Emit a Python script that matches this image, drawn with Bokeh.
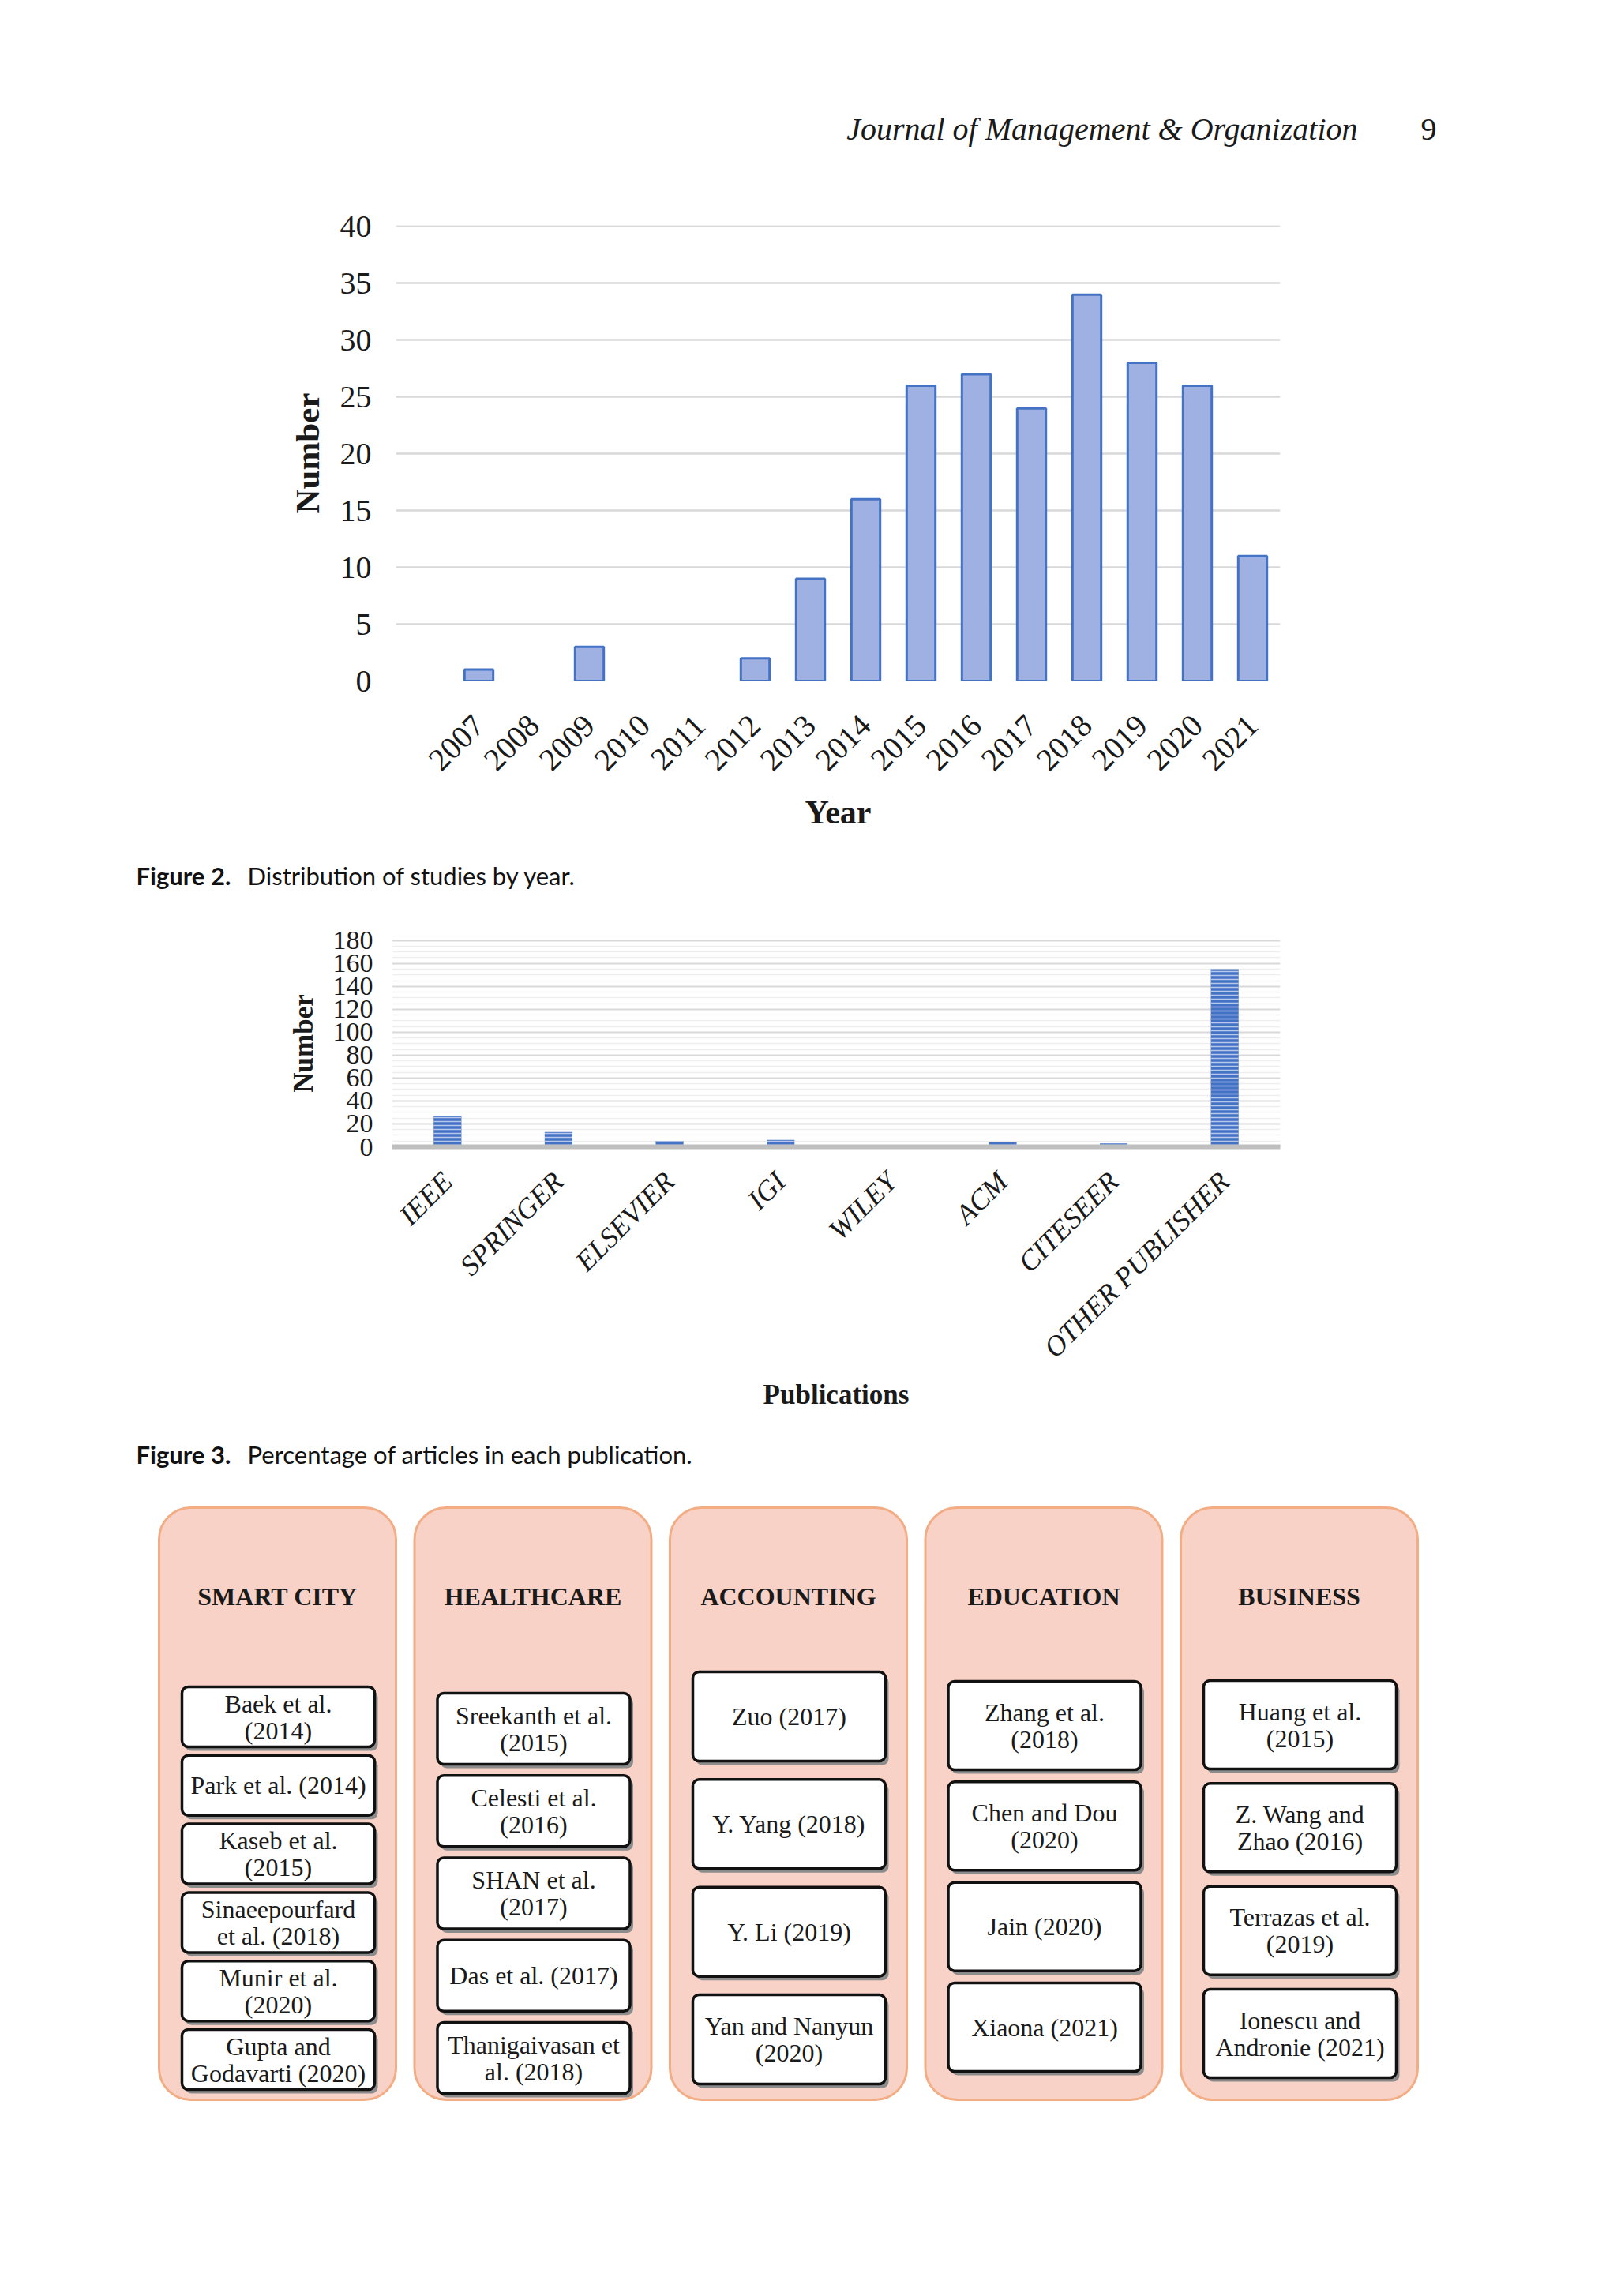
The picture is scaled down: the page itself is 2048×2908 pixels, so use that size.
import math
from bokeh.plotting import figure
from bokeh.layouts import column
from bokeh.models import (Range1d, FixedTicker, FactorRange, ColumnDataSource,
                          CDSView, BooleanFilter)
from bokeh.core.properties import value
from bokeh.embed import file_html
from bokeh.resources import INLINE

# ---------------- data ----------------
years = ["2007", "2008", "2009", "2010", "2011", "2012", "2013", "2014",
         "2015", "2016", "2017", "2018", "2019", "2020", "2021"]
year_counts = [1, 0, 3, 0, 0, 2, 9, 16, 26, 27, 24, 34, 28, 26, 11]
year_ticks = [0, 5, 10, 15, 20, 25, 30, 35, 40]

publishers = ["IEEE", "SPRINGER", "ELSEVIER", "IGI", "WILEY", "ACM",
              "CITESEER", "OTHER PUBLISHER"]
publisher_counts = [27, 13, 5, 6, 1, 4, 3, 155]
pub_ticks = [0, 20, 40, 60, 80, 100, 120, 140, 160, 180]
pub_minor = [5, 10, 15, 25, 30, 35, 45, 50, 55, 65, 70, 75, 85, 90, 95,
             105, 110, 115, 125, 130, 135, 145, 150, 155, 165, 170, 175]

domains = ["SMART CITY", "HEALTHCARE", "ACCOUNTING", "EDUCATION", "BUSINESS"]
smart_city = ["Baek et al.\n(2014)", "Park et al. (2014)", "Kaseb et al.\n(2015)",
              "Sinaeepourfard\net al. (2018)", "Munir et al.\n(2020)",
              "Gupta and\nGodavarti (2020)"]
healthcare = ["Sreekanth et al.\n(2015)", "Celesti et al.\n(2016)",
              "SHAN et al.\n(2017)", "Das et al. (2017)",
              "Thanigaivasan et\nal. (2018)"]
accounting = ["Zuo (2017)", "Y. Yang (2018)", "Y. Li (2019)",
              "Yan and Nanyun\n(2020)"]
education = ["Zhang et al.\n(2018)", "Chen and Dou\n(2020)", "Jain (2020)",
             "Xiaona (2021)"]
business = ["Huang et al.\n(2015)", "Z. Wang and\nZhao (2016)",
            "Terrazas et al.\n(2019)", "Ionescu and\nAndronie (2021)"]
domain_items = [smart_city, healthcare, accounting, education, business]

header_text = "Journal of Management & Organization"
page_number = "9"
cap2_label, cap2_text = "Figure 2.", "Distribution of studies by year."
cap3_label, cap3_text = "Figure 3.", "Percentage of articles in each publication."

# ---------------- style ----------------
W = 2032
SERIF = "Liberation Serif"
SANS = "Lato"


def no_align(p):
    try:
        p.frame_align = False
    except Exception:
        pass
    return p


def blank(h):
    p = figure(width=W, height=h, x_range=Range1d(0, W), y_range=Range1d(h, 0),
               output_backend="svg", toolbar_location=None, title=None,
               x_axis_location=None, y_axis_location=None, min_border=0)
    p.grid.visible = False
    p.outline_line_color = None
    p.background_fill_color = "white"
    p.border_fill_color = "white"
    return no_align(p)


# header
head = blank(200)
head.text(x=[1719], y=[163], text=[header_text], text_font=value(SERIF),
          text_font_style="italic", text_font_size="40px", text_align="right",
          text_baseline="alphabetic", text_color="#1a1a1a")
head.text(x=[1819], y=[163], text=[page_number], text_font=value(SERIF),
          text_font_size="40px", text_align="right", text_baseline="alphabetic",
          text_color="#1a1a1a")

# ---------------- chart 1 ----------------
x1 = list(range(len(years)))
p1 = figure(width=W, height=882, x_range=Range1d(-1.5, 14.5), y_range=Range1d(0, 40.1),
            output_backend="svg", toolbar_location=None, title=None,
            min_border_left=501, min_border_right=411, min_border_top=85,
            min_border_bottom=220)
no_align(p1)
src1 = ColumnDataSource(dict(x=x1, top=year_counts))
view1 = CDSView(filter=BooleanFilter([v > 0 for v in year_counts]))
p1.vbar(x="x", top="top", width=0.52, source=src1, view=view1,
        fill_color="#9fb0e2", line_color="#4472c4", line_width=3)
p1.xaxis.ticker = FixedTicker(ticks=x1)
p1.xaxis.major_label_overrides = {i: y for i, y in enumerate(years)}
p1.yaxis.ticker = FixedTicker(ticks=year_ticks)
p1.xgrid.visible = False
p1.ygrid.grid_line_color = "#d9d9d9"
p1.ygrid.grid_line_width = 2.5
p1.outline_line_color = None
for ax in (p1.xaxis, p1.yaxis):
    ax.axis_line_color = None
    ax.major_tick_line_color = None
    ax.minor_tick_line_color = None
    ax.major_tick_out = 0
    ax.major_tick_in = 0
    ax.minor_tick_out = 0
    ax.minor_tick_in = 0
    ax.major_label_text_font = SERIF
    ax.major_label_text_font_style = "normal"
    ax.major_label_text_font_size = "40px"
    ax.major_label_text_color = "#1a1a1a"
    ax.axis_label_text_font = SERIF
    ax.axis_label_text_font_style = "bold"
    ax.axis_label_text_color = "#1a1a1a"
p1.yaxis.major_label_standoff = 31
p1.xaxis.major_label_orientation = math.pi / 4
p1.xaxis.major_label_standoff = 50
p1.xaxis.axis_label = "Year"
p1.xaxis.axis_label_text_font_size = "42px"
p1.xaxis.axis_label_standoff = 16
p1.yaxis.axis_label = "Number"
p1.yaxis.axis_label_text_font_size = "43px"
p1.yaxis.axis_label_standoff = 15

cap2 = blank(70)
cap2.text(x=[172], y=[26], text=[cap2_label], text_font=value(SANS),
          text_font_style="bold", text_font_size="31px", text_baseline="alphabetic",
          text_color="#111111")
cap2.text(x=[313], y=[26], text=[cap2_text], text_font=value(SANS),
          text_font_size="31px", text_baseline="alphabetic", text_color="#111111")

# ---------------- chart 2 ----------------
p2 = figure(width=W, height=660, x_range=FactorRange(factors=publishers),
            y_range=Range1d(0, 180.5), output_backend="svg", toolbar_location=None,
            title=None, min_border_left=496, min_border_right=411, min_border_top=38,
            min_border_bottom=360)
no_align(p2)
p2.vbar(x=publishers, top=publisher_counts, width=0.25, fill_color="#4472c4",
        line_color=None, hatch_pattern="horizontal_line", hatch_color="#b7c9ec",
        hatch_scale=5, hatch_weight=1.5)
p2.yaxis.ticker = FixedTicker(ticks=pub_ticks, minor_ticks=pub_minor)
p2.xgrid.visible = False
p2.ygrid.grid_line_color = "#d9d9d9"
p2.ygrid.grid_line_width = 2
p2.ygrid.minor_grid_line_color = "#eeeeee"
p2.ygrid.minor_grid_line_width = 1.5
p2.outline_line_color = None
for ax in (p2.xaxis, p2.yaxis):
    ax.major_tick_line_color = None
    ax.minor_tick_line_color = None
    ax.major_tick_out = 0
    ax.major_tick_in = 0
    ax.minor_tick_out = 0
    ax.minor_tick_in = 0
    ax.major_label_text_font = SERIF
    ax.major_label_text_font_size = "34px"
    ax.major_label_text_color = "#1a1a1a"
    ax.axis_label_text_font = SERIF
    ax.axis_label_text_font_style = "bold"
    ax.axis_label_text_font_size = "35px"
    ax.axis_label_text_color = "#1a1a1a"
p2.yaxis.axis_line_color = None
p2.xaxis.axis_line_color = "#bfbfbf"
p2.xaxis.axis_line_width = 6
p2.xaxis.major_label_text_font_style = "italic"
p2.xaxis.major_label_text_font_size = "36px"
p2.xaxis.major_label_orientation = math.pi / 4
p2.xaxis.major_label_standoff = 38
p2.yaxis.major_label_standoff = 24
p2.xaxis.axis_label = "Publications"
p2.xaxis.axis_label_standoff = 3
p2.yaxis.axis_label = "Number"
p2.yaxis.axis_label_standoff = 15

cap3 = blank(70)
cap3.text(x=[172], y=[29], text=[cap3_label], text_font=value(SANS),
          text_font_style="bold", text_font_size="31px", text_baseline="alphabetic",
          text_color="#111111")
cap3.text(x=[313], y=[29], text=[cap3_text], text_font=value(SANS),
          text_font_size="31px", text_baseline="alphabetic", text_color="#111111")

# ---------------- diagram ----------------
DH = 1000
OY = 1890   # page y of the diagram figure
OX = 8
diag = blank(DH)
col_left0, col_pitch, col_w = 209, 323.5, 300
col_top, col_bot = 1917, 2667
box_off, box_w = 29, 244
box_layout = [(2144, 2654, 76), (2152, 2659, 90), (2125, 2647, 113),
              (2137, 2631, 112), (2136, 2639, 112)]

cl = [col_left0 + i * col_pitch - OX for i in range(len(domains))]
diag.quad(left=cl, right=[c + col_w for c in cl], top=[col_top - OY] * len(cl),
          bottom=[col_bot - OY] * len(cl), border_radius=40,
          fill_color="#f8d2c7", line_color="#f2ad85", line_width=3)
diag.text(x=[c + col_w / 2 for c in cl], y=[2029 - OY] * len(cl), text=domains,
          text_font=value(SERIF), text_font_style="bold", text_font_size="32px",
          text_align="center", text_baseline="middle", text_color="#1a1a1a")

bl, br, bt, bb = [], [], [], []
tx, ty, tt = [], [], []
for i, items in enumerate(domain_items):
    top0, botn, h = box_layout[i]
    n = len(items)
    gap = (botn - top0 - n * h) / (n - 1)
    left = cl[i] + box_off
    for j, item in enumerate(items):
        t = top0 + j * (h + gap) - OY
        bl.append(left)
        br.append(left + box_w)
        bt.append(t)
        bb.append(t + h)
        lines = item.split("\n")
        cy = t + h / 2
        if len(lines) == 1:
            offs = [0]
        else:
            offs = [-17, 17]
        for ln, o in zip(lines, offs):
            tx.append(left + box_w / 2)
            ty.append(cy + o)
            tt.append(ln)

diag.quad(left=[v + 4 for v in bl], right=[v + 4 for v in br],
          top=[v + 5 for v in bt], bottom=[v + 5 for v in bb], border_radius=8,
          fill_color="#8c8c8c", line_color=None)
diag.quad(left=bl, right=br, top=bt, bottom=bb, border_radius=8,
          fill_color="white", line_color="#111111", line_width=3.5)
diag.text(x=tx, y=ty, text=tt, text_font=value(SERIF), text_font_size="32px",
          text_align="center", text_baseline="middle", text_color="#1a1a1a")

layout = column(head, p1, cap2, p2, cap3, diag, spacing=0)
open("out.html", "w").write(file_html(layout, INLINE))
